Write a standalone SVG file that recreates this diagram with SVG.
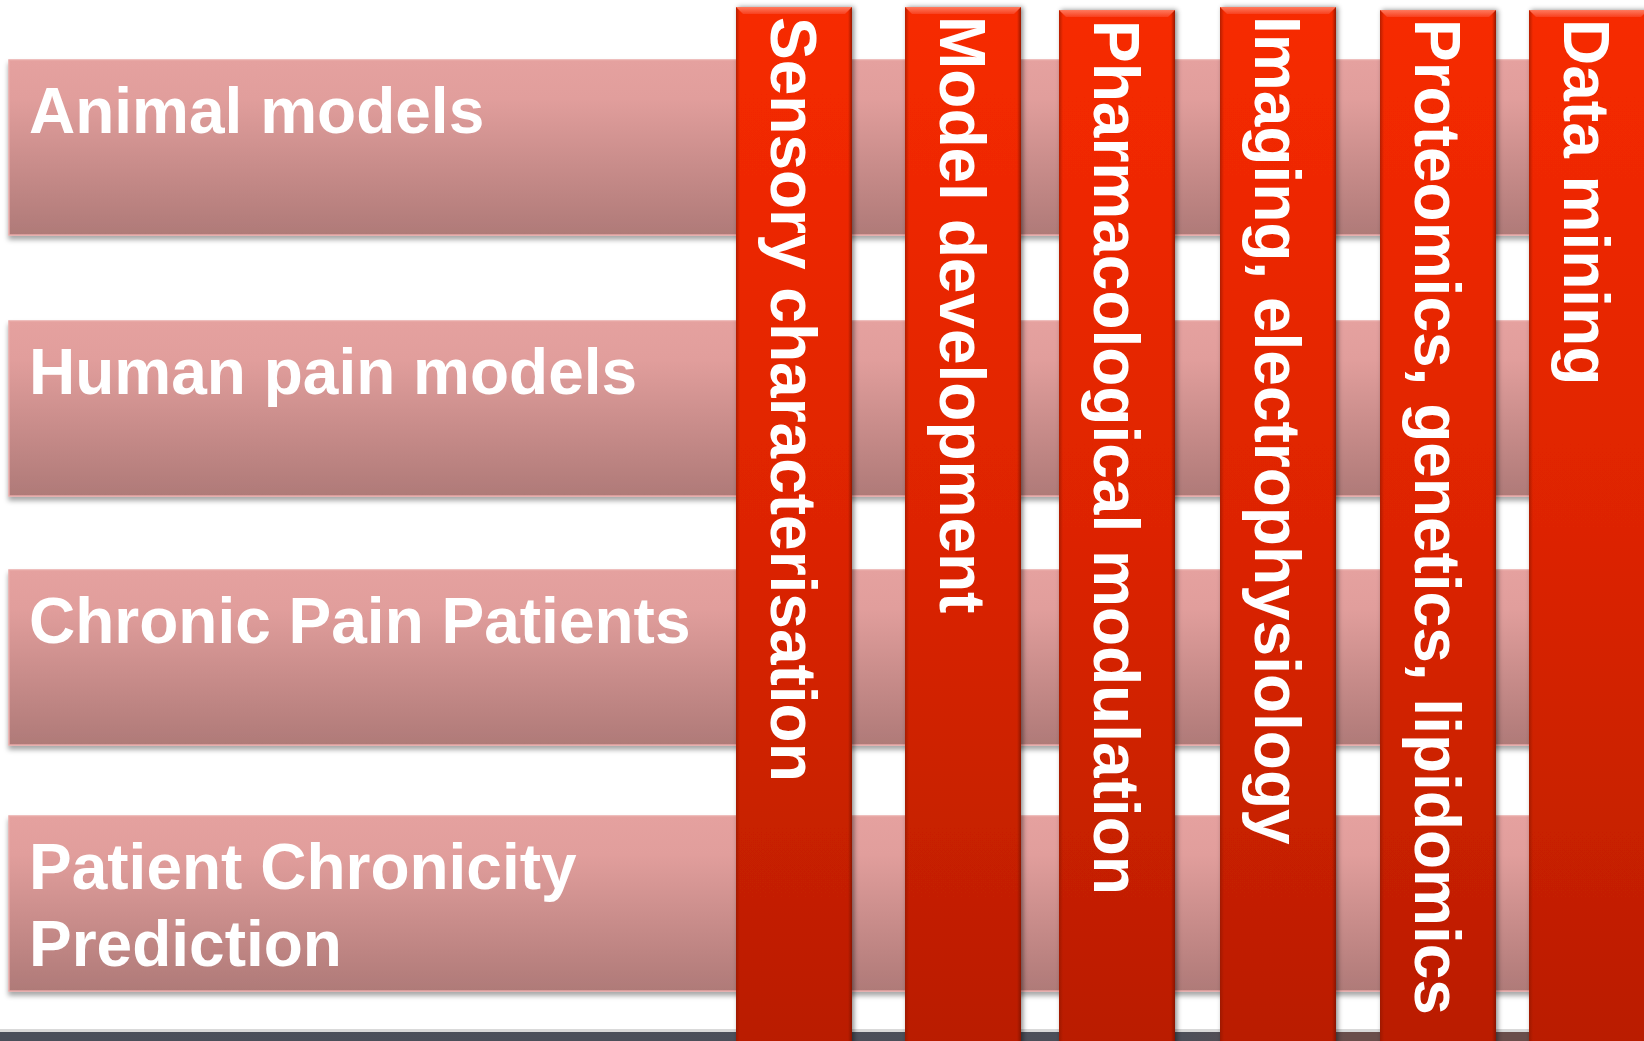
<svg xmlns="http://www.w3.org/2000/svg" width="1644" height="1041" viewBox="0 0 1644 1041">
  <defs>
    <linearGradient id="barGrad" x1="0" y1="0" x2="0" y2="1">
      <stop offset="0" stop-color="#E5A19F"/>
      <stop offset="0.22" stop-color="#E19E9C"/>
      <stop offset="1" stop-color="#AF7A78"/>
    </linearGradient>
    <linearGradient id="colGrad" x1="0" y1="0" x2="0" y2="1">
      <stop offset="0" stop-color="#F72A06"/>
      <stop offset="0.5" stop-color="#DD2405"/>
      <stop offset="1" stop-color="#B91D04"/>
    </linearGradient>
    <linearGradient id="bevelTop" x1="0" y1="0" x2="0" y2="1">
      <stop offset="0" stop-color="#FF7A5E"/>
      <stop offset="1" stop-color="#F8401E"/>
    </linearGradient>
    <linearGradient id="edgeR" x1="0" y1="0" x2="1" y2="0">
      <stop offset="0" stop-color="#7A1200" stop-opacity="0"/>
      <stop offset="1" stop-color="#7A1200" stop-opacity="0.75"/>
    </linearGradient>
    <linearGradient id="edgeL" x1="0" y1="0" x2="1" y2="0">
      <stop offset="0" stop-color="#8A1600" stop-opacity="0.6"/>
      <stop offset="1" stop-color="#8A1600" stop-opacity="0"/>
    </linearGradient>
    <linearGradient id="bandGrad" x1="0" y1="0" x2="1" y2="0">
      <stop offset="0" stop-color="#4A4F5A"/>
      <stop offset="0.72" stop-color="#4C4F59"/>
      <stop offset="0.82" stop-color="#6A4E4B"/>
      <stop offset="1" stop-color="#6A4E4B"/>
    </linearGradient>
    <filter id="barShadow" x="-5%" y="-20%" width="110%" height="140%">
      <feDropShadow dx="0" dy="4" stdDeviation="2.5" flood-color="#000" flood-opacity="0.35"/>
    </filter>
    <filter id="colShadow" x="-20%" y="-5%" width="140%" height="110%">
      <feDropShadow dx="2" dy="0" stdDeviation="2.5" flood-color="#000" flood-opacity="0.45"/>
    </filter>
  </defs>
  <style>
    .bar { fill: url(#barGrad); stroke: #E9AAA8; stroke-width: 1.5; }
    .col { fill: url(#colGrad); }
    .bevel { fill: url(#bevelTop); }
    .er { fill: url(#edgeR); }
    .el { fill: url(#edgeL); }
    .lbl { font-family: "Liberation Sans", Arial, sans-serif; font-weight: bold; font-size: 64px; fill: #FFFFFF; }
  </style>

  <rect x="0" y="0" width="1644" height="1041" fill="#FFFFFF"/>

  <!-- bottom band -->
  <g id="bottom-band">
    <rect x="0" y="1029" width="1644" height="3" fill="#D9D9D9"/>
    <rect x="0" y="1032" width="1644" height="9" fill="url(#bandGrad)"/>
  </g>

  <!-- horizontal rows -->
  <g id="row-animal" filter="url(#barShadow)">
    <rect class="bar" x="9" y="60" width="1645" height="175"/>
    <text class="lbl" x="29" y="133">Animal models</text>
  </g>
  <g id="row-human" filter="url(#barShadow)">
    <rect class="bar" x="9" y="321" width="1645" height="175"/>
    <text class="lbl" x="29" y="394">Human pain models</text>
  </g>
  <g id="row-chronic" filter="url(#barShadow)">
    <rect class="bar" x="9" y="570" width="1645" height="175"/>
    <text class="lbl" x="29" y="643">Chronic Pain Patients</text>
  </g>
  <g id="row-prediction" filter="url(#barShadow)">
    <rect class="bar" x="9" y="816" width="1645" height="175"/>
    <text class="lbl" x="29" y="889">Patient Chronicity</text>
    <text class="lbl" x="29" y="966">Prediction</text>
  </g>

  <!-- vertical columns -->
  <g id="col-sensory">
    <rect class="col" x="736" y="7" width="116" height="1040" filter="url(#colShadow)"/>
    <rect class="el" x="736" y="7" width="4" height="1034"/>
    <rect class="er" x="848" y="7" width="4" height="1034"/>
    <polygon class="bevel" points="736,7 852,7 845,14 743,14"/>
    <text class="lbl" transform="translate(771,17) rotate(90)">Sensory characterisation</text>
  </g>
  <g id="col-model">
    <rect class="col" x="905" y="7" width="116" height="1040" filter="url(#colShadow)"/>
    <rect class="el" x="905" y="7" width="4" height="1034"/>
    <rect class="er" x="1017" y="7" width="4" height="1034"/>
    <polygon class="bevel" points="905,7 1021,7 1014,14 912,14"/>
    <text class="lbl" transform="translate(940,16) rotate(90)">Model development</text>
  </g>
  <g id="col-pharma">
    <rect class="col" x="1059" y="10" width="116" height="1040" filter="url(#colShadow)"/>
    <rect class="el" x="1059" y="10" width="4" height="1031"/>
    <rect class="er" x="1171" y="10" width="4" height="1031"/>
    <polygon class="bevel" points="1059,10 1175,10 1168,17 1066,17"/>
    <text class="lbl" transform="translate(1094,20) rotate(90)">Pharmacological modulation</text>
  </g>
  <g id="col-imaging">
    <rect class="col" x="1220" y="7" width="116" height="1040" filter="url(#colShadow)"/>
    <rect class="el" x="1220" y="7" width="4" height="1034"/>
    <rect class="er" x="1332" y="7" width="4" height="1034"/>
    <polygon class="bevel" points="1220,7 1336,7 1329,14 1227,14"/>
    <text class="lbl" transform="translate(1255,16) rotate(90)">Imaging, electrophysiology</text>
  </g>
  <g id="col-omics">
    <rect class="col" x="1380" y="10" width="116" height="1040" filter="url(#colShadow)"/>
    <rect class="el" x="1380" y="10" width="4" height="1031"/>
    <rect class="er" x="1492" y="10" width="4" height="1031"/>
    <polygon class="bevel" points="1380,10 1496,10 1489,17 1387,17"/>
    <text class="lbl" transform="translate(1415,19) rotate(90)">Proteomics, genetics, lipidomics</text>
  </g>
  <g id="col-datamining">
    <rect class="col" x="1529" y="10" width="120" height="1040" filter="url(#colShadow)"/>
    <rect class="el" x="1529" y="10" width="4" height="1031"/>
    <polygon class="bevel" points="1529,10 1648,10 1641,17 1536,17"/>
    <text class="lbl" transform="translate(1564,19) rotate(90)">Data mining</text>
  </g>

  <g id="connectors"/>
</svg>
